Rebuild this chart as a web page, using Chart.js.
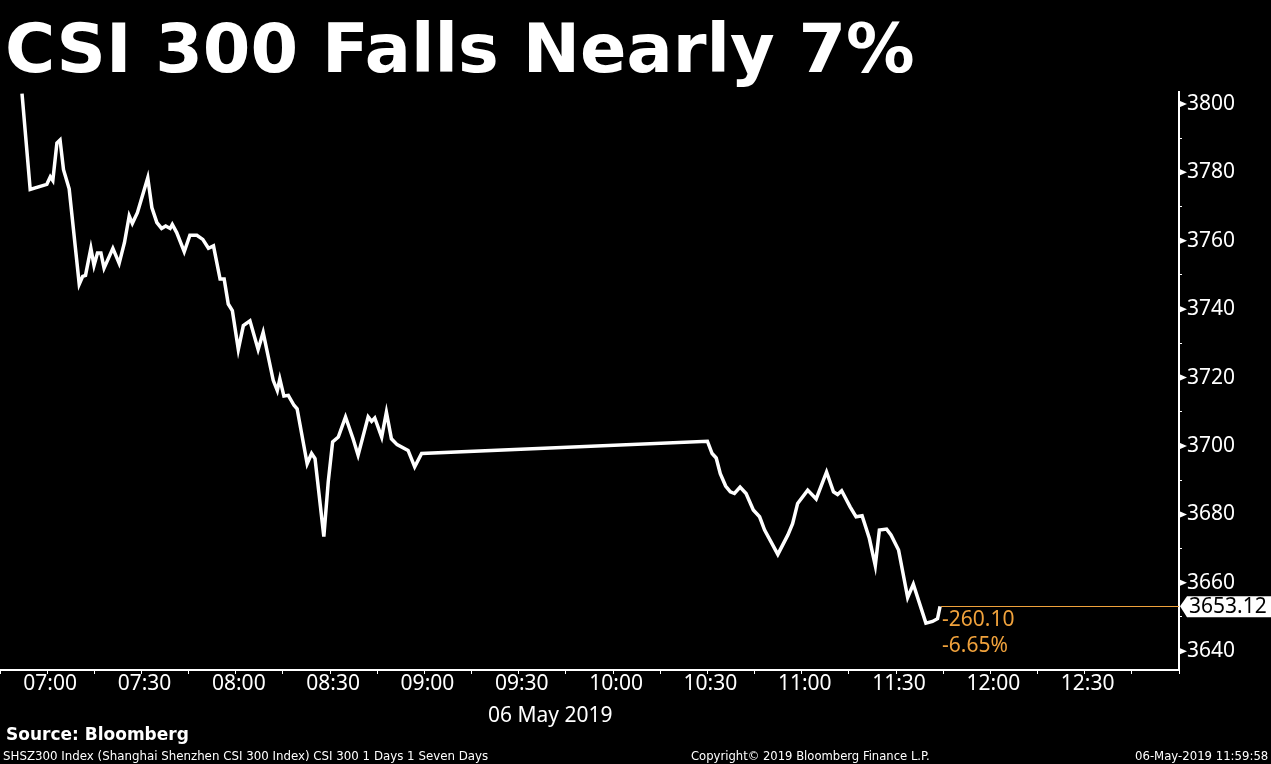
<!DOCTYPE html>
<html>
<head>
<meta charset="utf-8">
<title>CSI 300 Falls Nearly 7%</title>
<script src="https://cdn.jsdelivr.net/npm/chart.js@4.4.1/dist/chart.umd.min.js"></script>
<style>
  html, body { margin:0; padding:0; background:#000; overflow:hidden; }
  #wrap { position:relative; width:1271px; height:764px; background:#000; }
  #chartCanvas { position:absolute; left:0; top:0; }
  .txt { position:absolute; color:#fff; white-space:nowrap; line-height:1; }
  #title { left:5px; top:8px; font:bold 68.5px "DejaVu Sans", Verdana, sans-serif; }
  #dateLbl { left:488px; top:700px; font:21px "Noto Sans", sans-serif; }
  #source { left:6px; top:724px; font:bold 17px "DejaVu Sans", sans-serif; }
  .foot { top:748px; font:13px "DejaVu Sans Condensed", "DejaVu Sans", sans-serif; transform-origin:left top; }
</style>
</head>
<body>
<div id="wrap">
  <canvas id="chartCanvas" width="1271" height="764"></canvas>
  <div class="txt" id="title">CSI 300 Falls Nearly 7%</div>
  <div class="txt" id="dateLbl">06 May 2019</div>
  <div class="txt" id="source">Source: Bloomberg</div>
  <div class="txt foot" id="foot1" data-x="3" data-w="485">SHSZ300 Index (Shanghai Shenzhen CSI 300 Index) CSI 300 1 Days 1 Seven Days</div>
  <div class="txt foot" id="foot2" data-x="691" data-w="239">Copyright© 2019 Bloomberg Finance L.P.</div>
  <div class="txt foot" id="foot3" data-x="1135" data-w="133">06-May-2019 11:59:58</div>
</div>
<script>
// minutes after midnight (terminal time)
const times = [
  412.0, 414.6, 419.9, 421.0, 421.8, 423.1, 424.1, 425.2, 427.0, 430.2,
  431.3, 432.2, 433.9, 434.9, 436.0, 437.1, 438.1, 440.9, 442.9, 444.6,
  446.1, 447.1, 448.7, 452.0, 453.3, 454.9, 456.4, 457.7, 459.1, 459.8,
  461.2, 463.6, 465.4, 467.6, 469.5, 471.3, 472.9, 475.0, 476.3, 477.6,
  478.9, 480.8, 482.4, 484.5, 487.1, 488.7, 491.9, 493.2, 494.0, 495.3,
  496.7, 498.5, 499.5, 502.7, 504.1, 505.2, 508.0, 509.4, 510.8, 512.6,
  514.9, 517.3, 518.9, 522.1, 523.2, 524.2, 526.4, 527.9, 529.5, 531.3,
  534.8, 536.9, 539.1,
  630.0, 631.5, 632.8, 634.1, 635.8, 637.3, 638.6, 640.4, 642.3, 644.6,
  646.6, 648.2, 652.4, 655.6, 657.1, 658.7, 661.9, 664.6, 667.9, 670.1,
  671.4, 672.7, 675.4, 677.3, 679.2, 681.5, 683.4, 684.7, 687.0, 688.4,
  690.8, 693.7, 695.5, 699.5, 701.6, 703.2, 704.0
];
const values = [
  3803.0, 3775.0, 3776.5, 3778.7, 3777.6, 3788.6, 3789.5, 3780.8, 3775.2, 3747.3,
  3749.6, 3749.9, 3757.8, 3752.8, 3756.4, 3756.4, 3752.0, 3757.8, 3753.4, 3759.5,
  3767.3, 3765.1, 3768.2, 3778.4, 3769.7, 3765.3, 3763.6, 3764.3, 3763.6, 3764.8,
  3762.4, 3756.8, 3761.6, 3761.6, 3760.4, 3757.8, 3758.5, 3748.8, 3748.8, 3741.5,
  3739.6, 3728.2, 3735.2, 3736.6, 3728.2, 3733.2, 3719.2, 3716.2, 3719.6, 3714.6,
  3714.8, 3711.9, 3710.9, 3694.8, 3697.8, 3696.3, 3673.5, 3689.5, 3701.2, 3702.6,
  3708.5, 3702.1, 3697.3, 3708.5, 3707.2, 3708.2, 3702.6, 3709.9, 3702.1, 3700.4,
  3698.7, 3693.9, 3697.8,
  3701.4, 3697.8, 3696.5, 3691.9, 3688.3, 3686.6, 3686.1, 3688.0, 3686.1, 3681.3,
  3679.3, 3675.4, 3668.3, 3674.0, 3677.3, 3683.2, 3687.1, 3684.5, 3692.4, 3686.6,
  3685.8, 3686.9, 3682.2, 3679.3, 3679.6, 3673.0, 3665.0, 3675.4, 3675.7, 3674.0,
  3669.6, 3655.7, 3659.6, 3648.2, 3648.7, 3649.5, 3653.12
];

// axis ticks
const xTicks = [405,420,435,450,465,480,495,510,525,540,555,570,585,600,615,630,645,660,675,690,705,720,735,750,765,780];
const xTickLabels = {420:'07:00',450:'07:30',480:'08:00',510:'08:30',540:'09:00',570:'09:30',600:'10:00',630:'10:30',660:'11:00',690:'11:30',720:'12:00',750:'12:30'};
const yTicks = [3640,3650,3660,3670,3680,3690,3700,3710,3720,3730,3740,3750,3760,3770,3780,3790,3800];
const yLabelled = [3640,3660,3680,3700,3720,3740,3760,3780,3800];

const lastValue = 3653.12;
const changeAbs = '-260.10';
const changePct = '-6.65%';

const ORANGE = '#f0a23c';

// fit footer texts to their widths
document.querySelectorAll('.foot').forEach(f=>{
  f.style.left = f.dataset.x + 'px';
  const w = f.offsetWidth;
  f.style.transform = `scaleX(${Number(f.dataset.w)/w})`;
});

const lastMarker = {
  id:'lastMarker',
  afterDraw(chart){
    const {ctx, chartArea, scales:{x, y}} = chart;
    const px = x.getPixelForValue(times[times.length-1]);
    const py = y.getPixelForValue(lastValue);
    ctx.save();
    // major tick arrows on the y axis
    ctx.fillStyle = '#fff';
    yLabelled.forEach(v=>{
      const ty = y.getPixelForValue(v);
      ctx.beginPath();
      ctx.moveTo(chartArea.right, ty-3.5);
      ctx.lineTo(chartArea.right+8, ty);
      ctx.lineTo(chartArea.right, ty+3.5);
      ctx.closePath();
      ctx.fill();
    });
    // last price line
    ctx.strokeStyle = ORANGE;
    ctx.lineWidth = 1;
    ctx.beginPath();
    ctx.moveTo(px+1, Math.round(py)+0.5);
    ctx.lineTo(chartArea.right, Math.round(py)+0.5);
    ctx.stroke();
    // change texts
    ctx.fillStyle = ORANGE;
    ctx.font = '21px "Noto Sans", sans-serif';
    ctx.textBaseline = 'middle';
    ctx.textAlign = 'left';
    ctx.fillText(changeAbs, px+2, py+14);
    ctx.fillText(changePct, px+2, py+40);
    // price box with pointer
    const bx = chartArea.right + 1;
    ctx.fillStyle = '#fff';
    ctx.beginPath();
    ctx.moveTo(bx, py);
    ctx.lineTo(bx+7, py-10);
    ctx.lineTo(1271, py-10);
    ctx.lineTo(1271, py+11);
    ctx.lineTo(bx+7, py+11);
    ctx.closePath();
    ctx.fill();
    ctx.fillStyle = '#000';
    ctx.fillText(lastValue.toFixed(2), bx+9, py+1);
    ctx.restore();
  }
};

Chart.defaults.font.family = '"Noto Sans", sans-serif';

const ctx = document.getElementById('chartCanvas').getContext('2d');
new Chart(ctx, {
  type:'line',
  data:{
    datasets:[{
      data: times.map((t,i)=>({x:t, y:values[i]})),
      borderColor:'#fff',
      borderWidth:3.5,
      pointRadius:0,
      tension:0,
      fill:false
    }]
  },
  options:{
    responsive:false,
    animation:false,
    devicePixelRatio:1,
    layout:{padding:{top:92, left:0, right:0, bottom:0}},
    plugins:{legend:{display:false}, tooltip:{enabled:false}, title:{display:false}},
    scales:{
      x:{
        type:'linear',
        min:405, max:780,
        afterBuildTicks: axis => { axis.ticks = xTicks.map(v=>({value:v})); },
        afterFit: scale => { scale.height = 94; },
        grid:{drawOnChartArea:false, drawTicks:true, tickLength:4, tickColor:'#fff'},
        border:{display:true, color:'#fff', width:2},
        ticks:{
          autoSkip:false, maxRotation:0, padding:0, labelOffset:3,
          color:'#fff', font:{size:21, lineHeight:1},
          callback: v => xTickLabels[v] || ''
        }
      },
      y:{
        position:'right',
        min:3634.5, max:3803.5,
        afterBuildTicks: axis => { axis.ticks = yTicks.map(v=>({value:v})); },
        afterFit: scale => { scale.width = 92; },
        grid:{drawOnChartArea:false, drawTicks:true, tickLength:3, tickColor:'#fff'},
        border:{display:true, color:'#fff', width:2},
        ticks:{
          padding:5, color:'#fff', font:{size:21},
          callback: v => yLabelled.includes(v) ? String(v) : ''
        }
      }
    }
  },
  plugins:[lastMarker]
});
</script>
</body>
</html>
